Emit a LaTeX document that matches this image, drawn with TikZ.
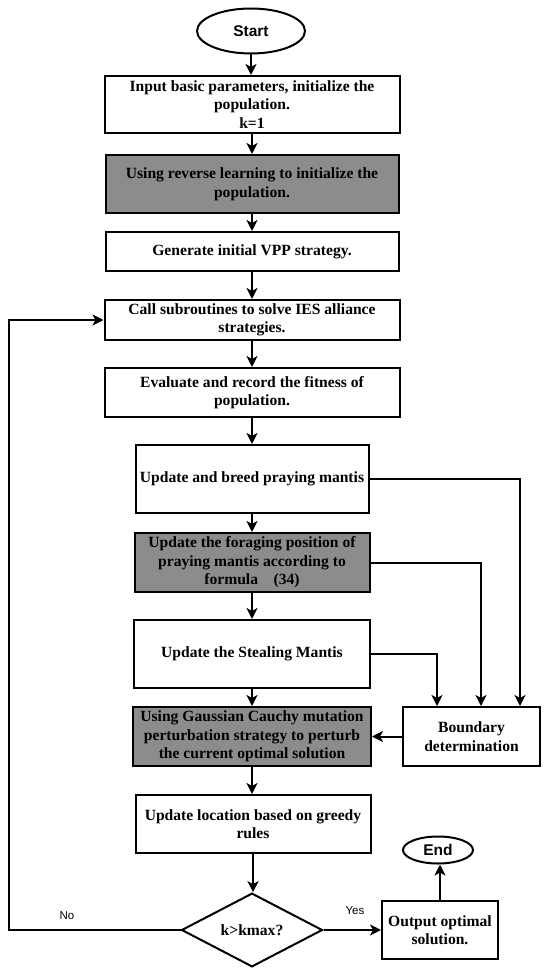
\documentclass[tikz,border=0pt]{standalone}
\usepackage{fontspec}
\setmainfont{Liberation Serif}
\newfontfamily\arialf{Liberation Sans}
\usetikzlibrary{arrows.meta,shapes.geometric}
\definecolor{boxgray}{RGB}{140,140,140}
\tikzset{
  base/.style={draw=black, line width=2pt, align=center, inner sep=0pt,
    font=\fontsize{15.6}{18.5}\selectfont\bfseries},
  sz/.style n args={2}{minimum width=#1pt, minimum height=#2pt},
  proc/.style={base, rectangle, fill=white},
  hl/.style={base, rectangle, fill=boxgray},
  term/.style={draw=black, line width=2pt, ellipse, inner sep=0pt, fill=white,
    font=\arialf\fontsize{15.5}{18}\selectfont\bfseries},
  dec/.style={base, diamond, fill=white},
  conn/.style={line width=2pt, -{Stealth[length=11pt,width=11pt,inset=3pt]}},
  lbl/.style={font=\arialf\fontsize{11.5}{13}\selectfont}
}
\begin{document}
\begin{tikzpicture}[x=1pt,y=-1pt]
\useasboundingbox[fill=white] (0,0) rectangle (550,971);
\node[term, sz={108}{45}] (start) at (251,31) {Start};
\node[proc, sz={295}{57}] (b1) at (252,104.5) {Input basic parameters, initialize the\\population.\\k=1};
\node[hl, sz={293}{58}] (b2) at (252,184) {Using reverse learning to initialize the\\population.};
\node[proc, sz={293}{39}] (b3) at (252,251.5) {Generate initial VPP strategy.};
\node[proc, sz={295}{40}] (b4) at (252,320) {Call subroutines to solve IES alliance\\strategies.};
\node[proc, sz={295}{49}] (b5) at (252,392.5) {Evaluate and record the fitness of\\population.};
\node[proc, sz={233}{68}] (b6) at (252,479) {Update and breed praying mantis};
\node[hl, sz={235}{59}] (b7) at (252,562.5) {Update the foraging position of\\praying mantis according to\\formula\quad(34)};
\node[proc, sz={236}{68}] (b8) at (252,654) {Update the Stealing Mantis};
\node[hl, sz={238}{59}] (b9) at (252,736.5) {Using Gaussian Cauchy mutation\\perturbation strategy to perturb\\the current optimal solution};
\node[proc, sz={137}{59}] (bd) at (471.5,736.5) {Boundary\\determination};
\node[proc, sz={235}{58}] (b10) at (253,824) {Update location based on greedy\\rules};
\node[dec, sz={141}{66}] (dec) at (252,930) {k>kmax?};
\node[proc, sz={116}{58}] (out) at (440,930) {Output optimal\\solution.};
\node[term, sz={70}{27}] (end) at (438,850) {End};
\node[lbl] (no) at (67,916) {No};
\node[lbl] (yes) at (355,911) {Yes};
\coordinate (loopc) at (9,930);

\draw[conn] (start.south) -- (start.south |- b1.north);
\draw[conn] (b1.south) -- (b1.south |- b2.north);
\draw[conn] (b2.south) -- (b2.south |- b3.north);
\draw[conn] (b3.south) -- (b3.south |- b4.north);
\draw[conn] (b4.south) -- (b4.south |- b5.north);
\draw[conn] (b5.south) -- (b5.south |- b6.north);
\draw[conn] (b6.south) -- (b6.south |- b7.north);
\draw[conn] (b7.south) -- (b7.south |- b8.north);
\draw[conn] (b8.south) -- (b8.south |- b9.north);
\draw[conn] (b9.south) -- (b9.south |- b10.north);
\draw[conn] (b10.south) -- (b10.south |- dec.north);
\draw[conn] (b6.east) -| ([xshift=-21pt]bd.north east);
\draw[conn] (b7.east) -| ([xshift=9.5pt]bd.north);
\draw[conn] (b8.east) -| ([xshift=35pt]bd.north west);
\draw[conn] (bd.west) -- (b9.east);
\draw[conn] (dec.west) -- (loopc) |- (b4.west);
\draw[conn] (dec.east) -- (out.west);
\draw[conn] (out.north) -- (out.north |- end.south);
\end{tikzpicture}
\end{document}
